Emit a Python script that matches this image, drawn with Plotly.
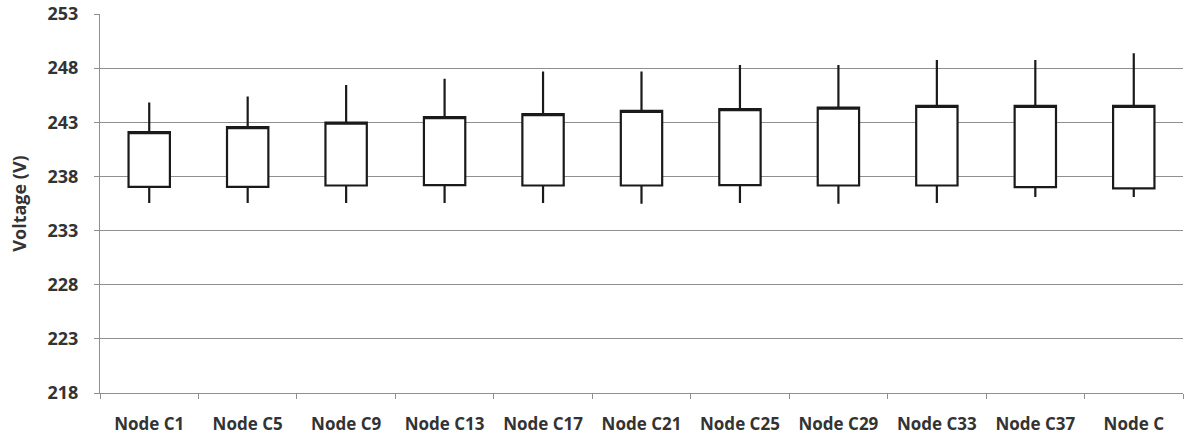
import plotly.graph_objects as go

nodes = ["Node C1", "Node C5", "Node C9", "Node C13", "Node C17", "Node C21",
         "Node C25", "Node C29", "Node C33", "Node C37", "Node C"]
v_open = [237.04, 237.04, 237.16, 237.20, 237.16, 237.16, 237.20, 237.16, 237.16, 237.01, 236.89]
v_close = [242.09, 242.55, 242.97, 243.47, 243.75, 244.05, 244.21, 244.36, 244.51, 244.51, 244.51]
v_high = [244.82, 245.37, 246.45, 247.03, 247.68, 247.68, 248.30, 248.30, 248.76, 248.76, 249.37]
v_low = [235.54, 235.54, 235.54, 235.54, 235.54, 235.47, 235.54, 235.47, 235.54, 236.09, 236.09]

y_ticks = [218, 223, 228, 233, 238, 243, 248, 253]

font_family = "Open Sans, Lato, Arial, sans-serif"
text_color = "#333333"
axis_gray = "#8f8f8f"

fig = go.Figure(
    go.Candlestick(
        x=nodes,
        open=v_open,
        high=v_high,
        low=v_low,
        close=v_close,
        whiskerwidth=0,
        increasing=dict(line=dict(color="#1a1a1a", width=2.2), fillcolor="white"),
        decreasing=dict(line=dict(color="#1a1a1a", width=2.2), fillcolor="black"),
        showlegend=False,
    )
)

fig.update_layout(
    width=1184,
    height=444,
    margin=dict(l=100, r=1, t=14, b=51),
    paper_bgcolor="white",
    plot_bgcolor="white",
    boxgap=0.58,
    boxgroupgap=0,
    font=dict(family=font_family, color=text_color),
)

fig.update_xaxes(
    type="category",
    rangeslider=dict(visible=False),
    showgrid=False,
    showline=True,
    linecolor=axis_gray,
    linewidth=1,
    ticks="outside",
    tickson="boundaries",
    ticklen=5,
    tickcolor=axis_gray,
    tickfont=dict(size=17, family=font_family, color=text_color, weight="bold"),
    ticklabelstandoff=16,
)

fig.update_yaxes(
    range=[218, 253],
    tickvals=y_ticks,
    ticktext=[str(t) for t in y_ticks],
    showgrid=True,
    gridcolor=axis_gray,
    gridwidth=1,
    zeroline=False,
    showline=True,
    linecolor=axis_gray,
    linewidth=1,
    ticks="outside",
    ticklen=5,
    tickcolor=axis_gray,
    tickfont=dict(size=18, family=font_family, color=text_color, weight="bold"),
    ticklabelstandoff=12,
    title=dict(text="Voltage (V)", font=dict(size=18, family=font_family, color=text_color, weight="bold"), standoff=16),
)

fig.write_html("out.html")
